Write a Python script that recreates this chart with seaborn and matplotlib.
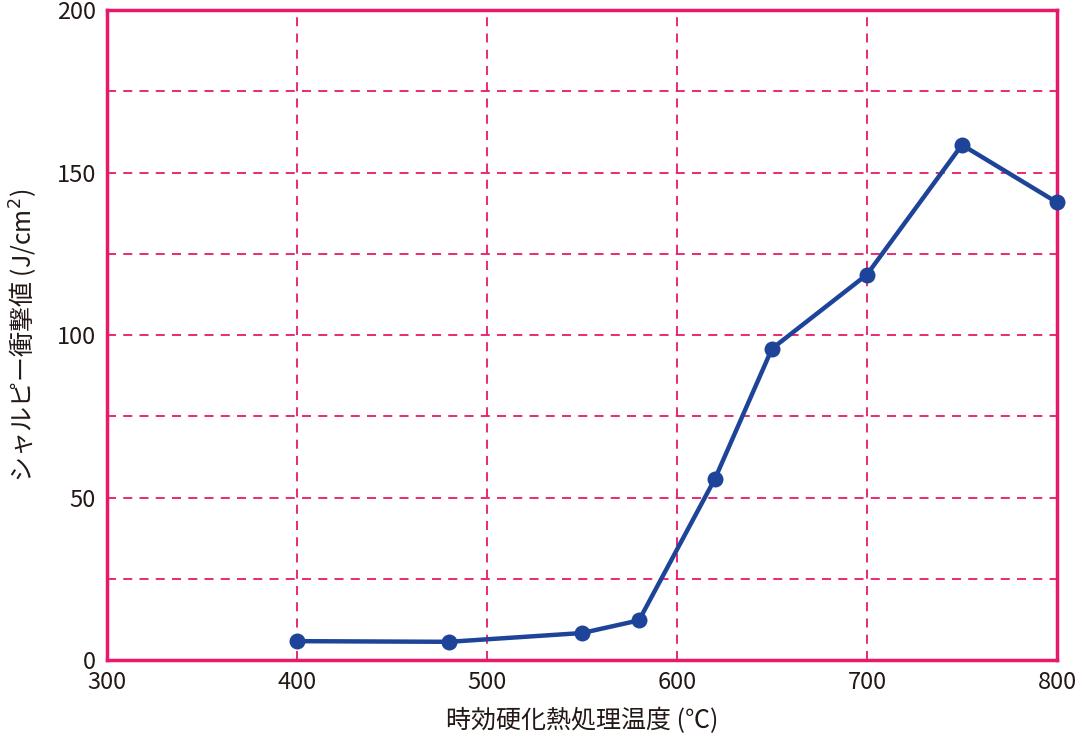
import matplotlib
matplotlib.use('Agg')
import matplotlib.pyplot as plt
import seaborn as sns
import pandas as pd
from matplotlib.ticker import MultipleLocator

# データ
temps = [400, 480, 550, 580, 620, 650, 700, 750, 800]
charpy = [5.8, 5.6, 8.3, 12.2, 55.8, 95.8, 118.6, 158.5, 140.8]

df = pd.DataFrame({'温度': temps, '衝撃値': charpy})

sns.set_style('white')
plt.rcParams['font.family'] = ['Noto Sans CJK JP', 'DejaVu Sans']

pink = '#e8196a'
blue = '#1e4499'
textc = '#231815'

fig = plt.figure(figsize=(10.79, 7.41), dpi=100)
ax = fig.add_axes([0.0992, 0.1093, 0.8804, 0.8772])

sns.lineplot(data=df, x='温度', y='衝撃値', ax=ax, color=blue, linewidth=3.2,
             marker='o', markersize=11.5, markeredgewidth=0, zorder=5, clip_on=False)

ax.set_xlim(300, 800)
ax.set_ylim(0, 200)
ax.xaxis.set_major_locator(MultipleLocator(100))
ax.yaxis.set_major_locator(MultipleLocator(50))
ax.yaxis.set_minor_locator(MultipleLocator(25))

ax.grid(True, which='both', color=pink, linestyle=(0, (5, 4)), linewidth=1.3)
ax.tick_params(which='both', length=0, labelsize=17, labelcolor=textc, pad=8)

for s in ax.spines.values():
    s.set_color(pink)
    s.set_linewidth(2.5)

ax.set_xlabel('時効硬化熱処理温度 (℃)', fontsize=18, color=textc, labelpad=10)
ax.set_ylabel('シャルピー衝撃値 (J/cm$^2$)', fontsize=18, color=textc, labelpad=12)

fig.savefig('out.png', dpi=100)
